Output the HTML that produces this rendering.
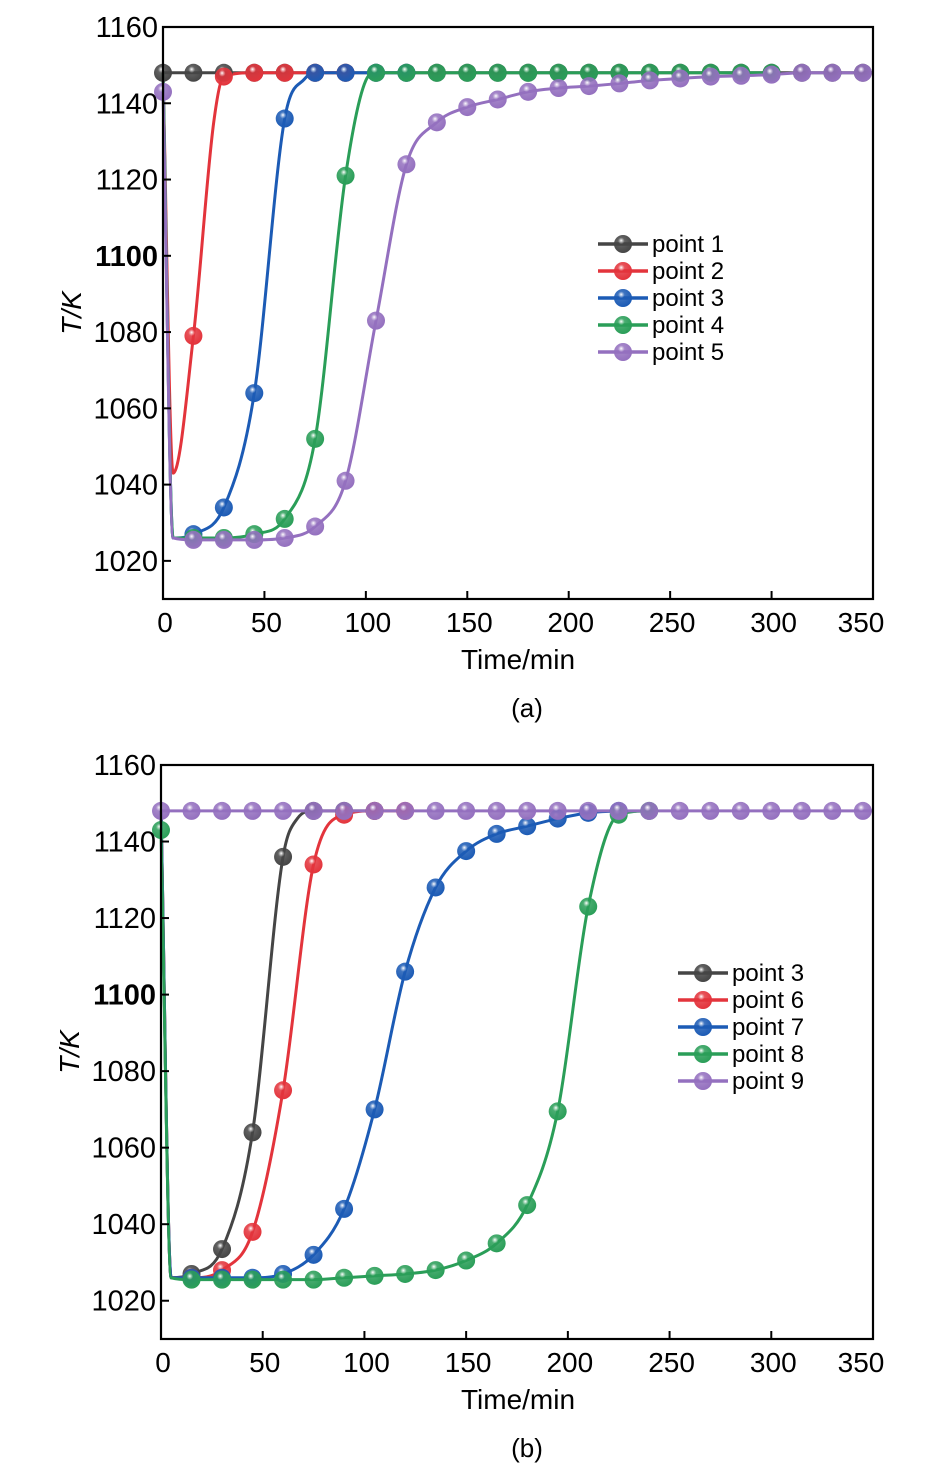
<!DOCTYPE html>
<html><head><meta charset="utf-8"><style>
body{margin:0;background:#fff;width:945px;height:1476px;overflow:hidden}
svg{display:block}
text{font-family:"Liberation Sans",Arial,sans-serif;fill:#000}
</style></head><body>
<svg id="svg" width="945" height="1476">
<defs>
</defs>
</svg>
<script>
// ---- Chart (a) data ----
const timesA1 = [0,15,30,45,60,75,90,105,120,135,150,165,180,195,210,225,240,255,270,285,300,315,330,345,350];
const valsA1 = [1148,1148,1148,1148,1148,1148,1148,1148,1148,1148,1148,1148,1148,1148,1148,1148,1148,1148,1148,1148,1148,1148,1148,1148,1148];
const timesA2 = [0,5,15,25,30,45,60,75,90];
const valsA2 = [1148,1043,1079,1135,1147,1148,1148,1148,1148];
const timesA3 = [0,5,15,30,45,60,70,75,90,105,120];
const valsA3 = [1148,1026,1027,1034,1064,1136,1146.5,1148,1148,1148,1148];
const timesA4 = [0,5,15,30,45,60,75,90,100,105,120,135,150,165,180,195,210,225,240,255,270,285,300];
const valsA4 = [1148,1026,1026,1026,1027,1031,1052,1121,1146,1148,1148,1148,1148,1148,1148,1148,1148,1148,1148,1148,1148,1148,1148];
const timesA5 = [0,5,15,30,45,60,75,90,105,120,135,150,165,180,195,210,225,240,255,270,285,300,315,330,345,350];
const valsA5 = [1143,1026,1025.5,1025.5,1025.5,1026,1029,1041,1083,1124,1135,1139,1141,1143,1144,1144.5,1145.2,1146,1146.5,1147,1147.2,1147.5,1148,1148,1148,1148];
// ---- Chart (b) data ----
const timesB3 = [0,5,15,30,45,60,67,75,90,105];
const valsB3 = [1148,1026,1027,1033.5,1064,1136,1146,1148,1148,1148];
const timesB6 = [0,5,15,30,45,60,75,90,105,120];
const valsB6 = [1148,1026,1026,1028,1038,1075,1134,1147,1148,1148];
const timesB7 = [0,5,15,30,45,60,75,90,105,120,135,150,165,180,195,210,225];
const valsB7 = [1148,1026,1026,1026,1026,1027,1032,1044,1070,1106,1128,1137.5,1142,1144,1146,1147.5,1148];
const timesB8 = [0,5,15,30,45,60,75,90,105,120,135,150,165,180,195,210,225,240];
const valsB8 = [1143,1026,1025.5,1025.5,1025.5,1025.5,1025.5,1026,1026.5,1027,1028,1030.5,1035,1045,1069.5,1123,1147,1148];
const timesB9 = [0,15,30,45,60,75,90,105,120,135,150,165,180,195,210,225,240,255,270,285,300,315,330,345,350];
const valsB9 = [1148,1148,1148,1148,1148,1148,1148,1148,1148,1148,1148,1148,1148,1148,1148,1148,1148,1148,1148,1148,1148,1148,1148,1148,1148];
const xTicks = [0,50,100,150,200,250,300,350];
const yTicks = [1020,1040,1060,1080,1100,1120,1140,1160];
const namesA = ['point 1','point 2','point 3','point 4','point 5'];
const namesB = ['point 3','point 6','point 7','point 8','point 9'];
const colors = ['#454545','#e3343c','#1c5bb5','#2a9e58','#9470bf'];

const NS='http://www.w3.org/2000/svg';
const svg=document.getElementById('svg');
const defs=svg.querySelector('defs');
function mk(tag,attrs,parent){const e=document.createElementNS(NS,tag);for(const k in attrs)e.setAttribute(k,attrs[k]);(parent||svg).appendChild(e);return e;}
colors.forEach((c,i)=>{
  const g=mk('radialGradient',{id:'g'+i,cx:'0.42',cy:'0.38',r:'0.62',fx:'0.4',fy:'0.3'},defs);
  mk('stop',{offset:'0','stop-color':'#ffffff'},g);
  mk('stop',{offset:'0.3','stop-color':c,'stop-opacity':'0.85'},g);
  mk('stop',{offset:'1','stop-color':c},g);
});
function monotonePath(xs,ys){
  const n=xs.length;const d=[],m=new Array(n);
  for(let i=0;i<n-1;i++)d.push((ys[i+1]-ys[i])/(xs[i+1]-xs[i]));
  m[0]=d[0];m[n-1]=d[n-2];
  for(let i=1;i<n-1;i++){m[i]=(d[i-1]*d[i]<=0)?0:(d[i-1]+d[i])/2;}
  for(let i=0;i<n-1;i++){if(d[i]===0){m[i]=0;m[i+1]=0;continue;}const a=m[i]/d[i],b=m[i+1]/d[i],s=a*a+b*b;if(s>9){const t=3/Math.sqrt(s);m[i]=t*a*d[i];m[i+1]=t*b*d[i];}}
  let p='M'+xs[0]+','+ys[0];
  for(let i=0;i<n-1;i++){const h=(xs[i+1]-xs[i])/3;p+=' C'+(xs[i]+h)+','+(ys[i]+m[i]*h)+' '+(xs[i+1]-h)+','+(ys[i+1]-m[i+1]*h)+' '+xs[i+1]+','+ys[i+1];}
  return p;
}
function chart(o){
  const X=t=>o.x0+(t-0)*(o.x1-o.x0)/350;
  const Y=v=>o.y1+(v-1010)*(o.y0-o.y1)/150;
  const g=mk('g',{});
  
  
  const clip=mk('clipPath',{id:'c'+o.id},defs);
  mk('rect',{x:o.x0-10,y:o.y0,width:o.x1-o.x0+10,height:o.y1-o.y0},clip);
  const plot=mk('g',{'clip-path':'url(#c'+o.id+')'},g);
  
  
  o.series.forEach((s,i)=>{
    const xs=s.t.map(X),ys=s.v.map(Y);
    const p=mk('path',{d:monotonePath(xs,ys),fill:'none',stroke:colors[i],'stroke-width':3},plot);
    
    
  });
  o.series.forEach((s,i)=>{
    s.t.forEach((t,j)=>{if(t%15!==0)return;
      if(t===0 && o.noStart.indexOf(i)>=0)return;
      const c=mk('circle',{cx:X(t),cy:Y(s.v[j]),r:9,fill:'url(#g'+i+')'},plot);
      
      
    });
  });
  const box=mk('rect',{x:o.x0,y:o.y0,width:o.x1-o.x0,height:o.y1-o.y0,fill:'none',stroke:'#000','stroke-width':2.2},g);
  
  
  xTicks.forEach(t=>{
    const x=X(t);
    if(t>0&&t<350)mk('line',{x1:x,x2:x,y1:o.y1,y2:o.y1-8,stroke:'#000','stroke-width':2},g);
    const tx=mk('text',{x:t===350?x-12:x+2,y:o.y1+33,'font-size':28,'text-anchor':'middle'},g);
    tx.textContent=t;
    
    
  });
  yTicks.forEach(v=>{
    const y=Y(v);
    if(v<1160)mk('line',{x1:o.x0,x2:o.x0+8,y1:y,y2:y,stroke:'#000','stroke-width':2},g);
    const tx=mk('text',{x:o.x0-5,y:y+10,'font-size':29,'text-anchor':'end','font-weight':v===1100?'bold':'normal'},g);
    tx.textContent=v;
    
    
  });
  const xt=mk('text',{x:518,y:o.y1+70,'font-size':28,'text-anchor':'middle'},g);
  xt.textContent='Time/min';
  
  
  const yt=mk('text',{x:0,y:0,'font-size':28,'text-anchor':'middle','font-style':'italic',transform:'translate('+(o.x0-82)+','+((o.y0+o.y1)/2)+') rotate(-90)'},g);
  yt.textContent='T/K';
  
  
  const cap=mk('text',{x:527,y:o.y1+118,'font-size':26,'text-anchor':'middle'},g);
  cap.textContent=o.caption;
  
  
  const lg=mk('g',{},g);
  
  
  o.names.forEach((n,i)=>{
    const y=o.ly+i*27;
    const e=mk('g',{},lg);
    
    
    mk('line',{x1:o.lx,x2:o.lx+50,y1:y,y2:y,stroke:colors[i],'stroke-width':3.5},e);
    mk('circle',{cx:o.lx+25,cy:y,r:9,fill:'url(#g'+i+')'},e);
    const t=mk('text',{x:o.lx+54,y:y+8,'font-size':24},e);
    t.textContent=n;
  });
}
chart({id:'chart-a',x0:163,x1:873,y0:27,y1:599,caption:'(a)',names:namesA,lx:598,ly:244,noStart:[1,2,3],
  series:[{t:timesA1,v:valsA1},{t:timesA2,v:valsA2},{t:timesA3,v:valsA3},{t:timesA4,v:valsA4},{t:timesA5,v:valsA5}]});
chart({id:'chart-b',x0:161,x1:873,y0:765,y1:1339,caption:'(b)',names:namesB,lx:678,ly:973,noStart:[0,1,2],
  series:[{t:timesB3,v:valsB3},{t:timesB6,v:valsB6},{t:timesB7,v:valsB7},{t:timesB8,v:valsB8},{t:timesB9,v:valsB9}]});
</script>
</body></html>
